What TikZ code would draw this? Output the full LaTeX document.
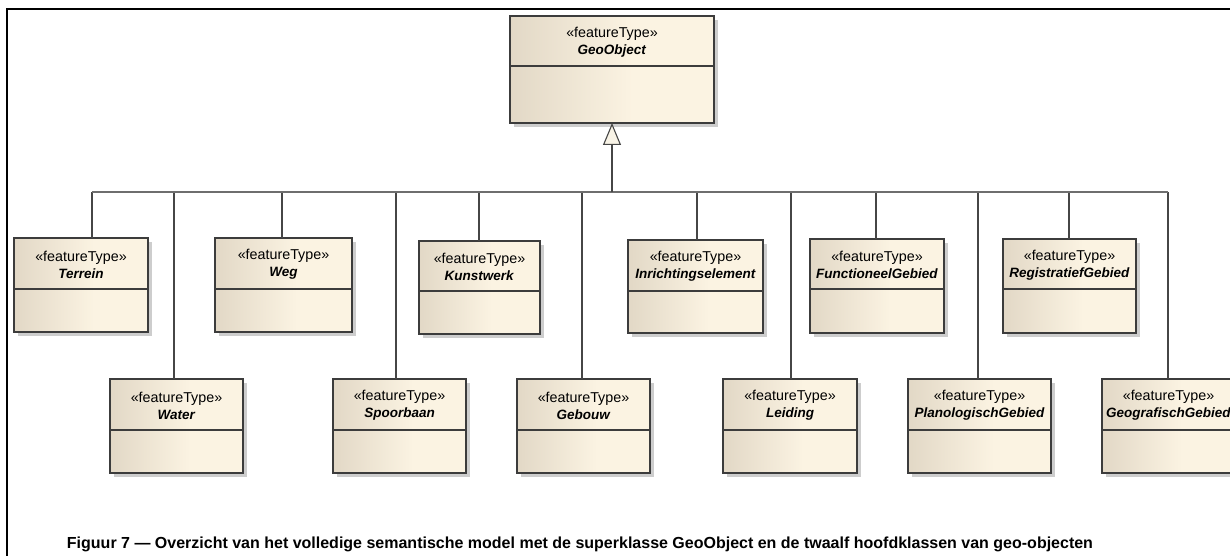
\documentclass[tikz,border=0pt]{standalone}
\usepackage{fontspec}
\setmainfont{Liberation Sans}
\usetikzlibrary{arrows.meta,shadows}
\definecolor{boxL}{RGB}{226,216,198}
\definecolor{boxR}{RGB}{251,243,226}
\definecolor{boxline}{RGB}{60,60,60}
\definecolor{conline}{RGB}{70,70,70}
\definecolor{busline}{RGB}{110,110,110}
\definecolor{shadowgray}{RGB}{205,205,205}
\definecolor{tipfill}{RGB}{248,243,230}
\pgfdeclarehorizontalshading{clsshade}{100bp}{color(0bp)=(boxL); color(25bp)=(boxL); color(55bp)=(boxR); color(100bp)=(boxR)}
\tikzset{
  clsbox/.style={draw=boxline, line width=1.3pt, shading=clsshade, inner sep=0pt, outer sep=0pt,
    drop shadow={shadow xshift=4pt, shadow yshift=-4pt, fill=shadowgray, opacity=1}},
  clsline/.style={draw=boxline, line width=1.3pt},
  clstext/.style={align=center, inner sep=0pt, font=\fontsize{13.5}{17}\selectfont},
  stereofont/.style={},
  dropline/.style={draw=conline, line width=1.1pt},
  busstyle/.style={draw=busline, line width=1.8pt},
  genstyle/.style={draw=conline, line width=1.1pt, -{Triangle[length=22pt, width=18pt, fill=tipfill]}},
  framestyle/.style={draw=black, line width=1.5pt},
  captionstyle/.style={font=\fontsize{16}{19}\selectfont\bfseries, inner sep=0pt}
}
\newcommand\umlcls[7]{%
  \node[clsbox, minimum width={(#4-#2)*1pt}, minimum height={(#5-#3)*1pt}] (#1) at ({(#2+#4)/2},{(#3+#5)/2}) {};
  \draw[clsline] (#2,#6) -- (#4,#6);
  \node[clstext] (#1-t) at ({(#2+#4)/2},{(#3+#6)/2+1}) {{\fontsize{14.3}{17}\selectfont «featureType»}\\\textbf{\textit{#7}}};
}
\begin{document}
\begin{tikzpicture}[x=1pt,y=-1pt]
\clip (0,0) rectangle (1230,556);
\fill[white] (0,0) rectangle (1230,556);
\draw[framestyle] (7,560) -- (7,9) -- (1235,9);

\umlcls{geo}{510}{16}{714}{123}{66}{GeoObject}
% row 1
\umlcls{terrein}{14}{238}{148}{332}{289}{Terrein}
\umlcls{weg}{215}{238}{352}{332}{289}{Weg}
\umlcls{kunstwerk}{419}{241}{540}{334}{291}{Kunstwerk}
\umlcls{inricht}{628}{240}{763}{333}{291}{Inrichtingselement}
\umlcls{functioneel}{810}{239}{944}{333}{289}{FunctioneelGebied}
\umlcls{registratief}{1003}{239}{1136}{333}{289}{RegistratiefGebied}
% row 2
\umlcls{water}{110}{379}{243}{473}{430}{Water}
\umlcls{spoorbaan}{333}{379}{466}{473}{430}{Spoorbaan}
\umlcls{gebouw}{517}{379}{650}{473}{430}{Gebouw}
\umlcls{leiding}{723}{379}{857}{473}{430}{Leiding}
\umlcls{planologisch}{908}{379}{1051}{473}{430}{PlanologischGebied}
\umlcls{geografisch}{1102}{379}{1235}{473}{430}{GeografischGebied}

% connectors
\coordinate (hub) at (612,192);
\foreach \n/\x in {terrein/92, water/174, weg/282, spoorbaan/396, kunstwerk/479, gebouw/582,
  inricht/697, leiding/791, functioneel/876, planologisch/978, registratief/1069, geografisch/1168}{
  \coordinate (d-\n) at (\x,192);
  \draw[dropline] (\n.north -| d-\n) -- (d-\n);
}
\draw[busstyle] (d-terrein) -- (d-geografisch);
\draw[genstyle] (hub) -- (geo.south);

\node[captionstyle, anchor=base] (cap) at (580,548) {Figuur 7 — Overzicht van het volledige semantische model met de superklasse GeoObject en de twaalf hoofdklassen van geo-objecten};
\end{tikzpicture}
\end{document}
